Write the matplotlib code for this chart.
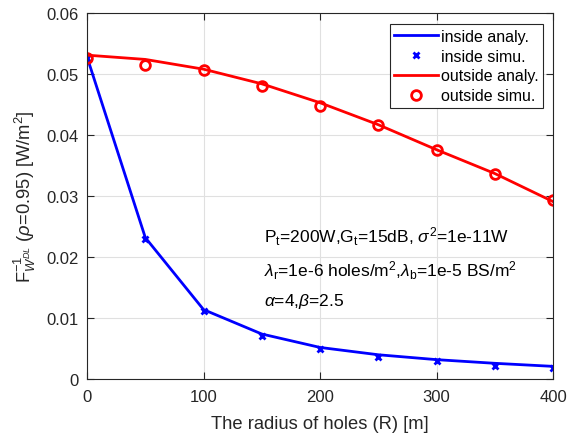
import numpy as np
import matplotlib.pyplot as plt

plt.rcParams['font.family'] = ['Liberation Sans', 'DejaVu Sans']
plt.rcParams['mathtext.fontset'] = 'custom'
plt.rcParams['mathtext.rm'] = 'Liberation Sans'
plt.rcParams['mathtext.it'] = 'Liberation Sans:italic'
plt.rcParams['mathtext.sf'] = 'Liberation Sans'

radius = [0, 50, 100, 150, 200, 250, 300, 350, 400]
inside_analy = [0.0528, 0.0232, 0.0114, 0.0074, 0.0052, 0.0040, 0.0032, 0.0026, 0.0021]
inside_simu = [0.0527, 0.0230, 0.0112, 0.0071, 0.0050, 0.0037, 0.0029, 0.0022, 0.0018]
outside_analy = [0.0531, 0.0524, 0.0508, 0.0484, 0.0453, 0.0417, 0.0376, 0.0337, 0.0291]
outside_simu = [0.0527, 0.0515, 0.0506, 0.0480, 0.0448, 0.0416, 0.0375, 0.0337, 0.0293]

fig = plt.figure(figsize=(5.69, 4.39), dpi=100)
ax = fig.add_axes([0.153, 0.134, 0.819, 0.834])

ax.plot(radius, inside_analy, color='blue', lw=2, label='inside analy.')
ax.plot(radius, inside_simu, ls='none', marker='x', color='blue', ms=5, mew=2,
        label='inside simu.')
ax.plot(radius, outside_analy, color='red', lw=2, label='outside analy.')
ax.plot(radius, outside_simu, ls='none', marker='o', mfc='none', mec='red', ms=7,
        mew=2, label='outside simu.')

ax.set_xlim(0, 400)
ax.set_ylim(0, 0.06)
ax.set_xticks(np.arange(0, 401, 100))
ax.set_yticks(np.arange(0, 0.061, 0.01))
ax.set_yticklabels(['0', '0.01', '0.02', '0.03', '0.04', '0.05', '0.06'])
ax.grid(True, color='#e0e0e0', lw=0.8)
ax.set_axisbelow(True)
ax.tick_params(direction='in', length=5, labelsize=12, colors='#262626',
               top=True, right=True)
ax.tick_params(axis='x', pad=7)
ax.tick_params(axis='y', pad=6)
for s in ax.spines.values():
    s.set_color('#262626')
    s.set_linewidth(0.8)

ax.set_xlabel('The radius of holes (R) [m]', fontsize=13.2, color='#262626',
              labelpad=8)
ax.set_ylabel(r'F$^{-1}_{W^{DL}}$ ($\rho$=0.95) [W/m$^2$]', fontsize=13.2,
              color='#262626', labelpad=6)

ax.text(152, 0.0225, r'P$_{\rm t}$=200W,G$_{\rm t}$=15dB, $\sigma^2$=1e-11W',
        fontsize=12.5)
ax.text(152, 0.0170, r'$\lambda_{\rm r}$=1e-6 holes/m$^2$,$\lambda_{\rm b}$=1e-5 BS/m$^2$',
        fontsize=12.5)
ax.text(152, 0.0122, r'$\alpha$=4,$\beta$=2.5', fontsize=12.5)

leg = ax.legend(loc='upper right', bbox_to_anchor=(0.979, 0.97), fontsize=11.5,
                fancybox=False, edgecolor='#262626', framealpha=1,
                handlelength=2.7, handletextpad=0.2, borderpad=0.3,
                labelspacing=0.3, borderaxespad=0)
leg.get_frame().set_linewidth(0.8)

fig.savefig('out.png', dpi=100)
